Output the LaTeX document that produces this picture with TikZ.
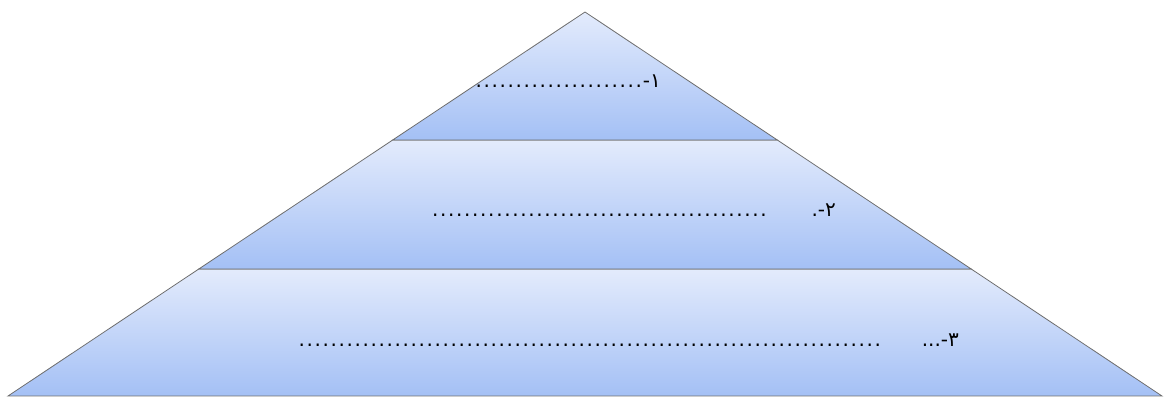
\documentclass[tikz,border=0pt]{standalone}
\usepackage{fontspec}
\newfontfamily\arabicfont[Script=Arabic]{DejaVu Sans}
\TeXXeTstate=1
\definecolor{bandtop}{RGB}{227,235,252}
\definecolor{bandbot}{RGB}{164,192,245}
\definecolor{edgegray}{RGB}{110,110,110}
\newcommand\dotline[1]{\hbox to #1{\leaders\hbox to 6pt{\hss.\hss}\hfill}}
\tikzset{
  band/.style={top color=bandtop, bottom color=bandbot, draw=edgegray, line width=0.6pt},
  rowtext/.style={anchor=east, inner sep=0pt, font=\arabicfont\fontsize{15pt}{17pt}\selectfont}
}
\begin{document}
\begin{tikzpicture}[x=0.75pt,y=-0.75pt]
    \useasboundingbox (0,0) rectangle (1172,398);

    % bands of the pyramid
    \shade[band] (8,396) -- (198.8,269) -- (971.2,269) -- (1162,396) -- cycle;
    \shade[band] (198.8,269) -- (392.7,140) -- (777.3,140) -- (971.2,269) -- cycle;
    \shade[band] (392.7,140) -- (585,12) -- (777.3,140) -- cycle;

    % lines to fill in
    \node[rowtext] (row1) at (661,81) {\beginR ١-\dotline{126pt}\endR};
    \node[rowtext] (row2) at (836,210) {\beginR ٢-.\hspace{33pt}\dotline{252pt}\endR};
    \node[rowtext] (row3) at (959,340) {\beginR ٣-...\hspace{30pt}\dotline{438pt}\endR};
\end{tikzpicture}
\end{document}
